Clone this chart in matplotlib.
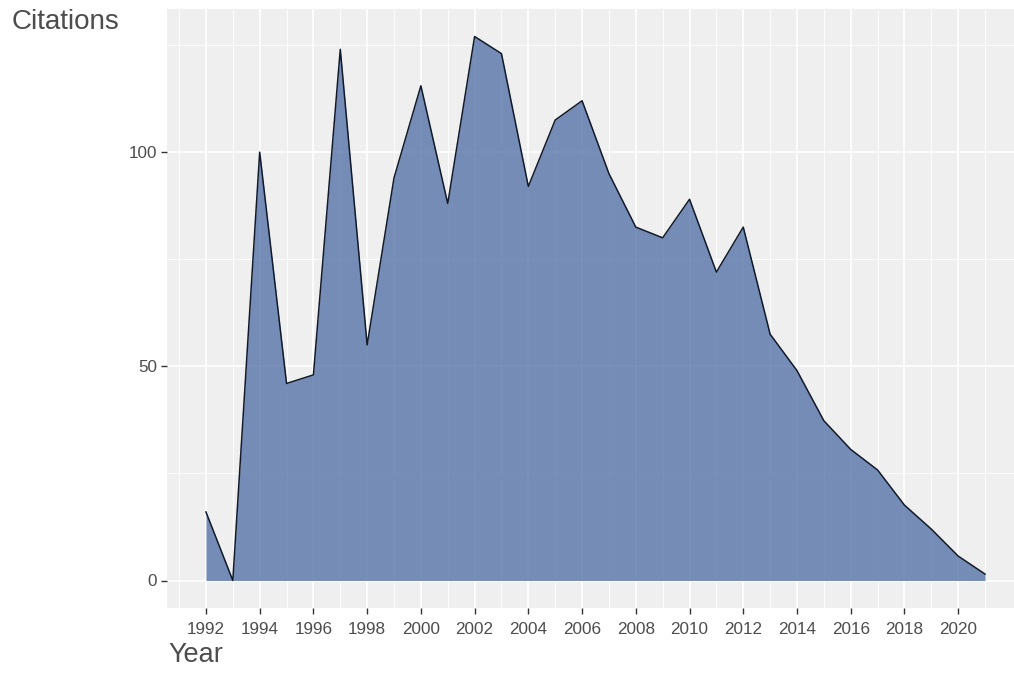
import matplotlib.pyplot as plt
import numpy as np

# Citations per year
years = list(range(1992, 2022))
citations = [16, 0, 100, 46, 48, 124, 55, 94, 115.5, 88,
             127, 123, 92, 107.5, 112, 95, 82.5, 80, 89, 72,
             82.5, 57.5, 49, 37.3, 30.6, 25.8, 17.6, 12, 5.7, 1.5]
x_ticks = list(range(1992, 2021, 2))
y_ticks = [0, 50, 100]

plt.rcParams['font.family'] = ['Liberation Sans', 'DejaVu Sans']

fig = plt.figure(figsize=(10.14, 6.73), dpi=100)
ax = fig.add_axes([167 / 1014, 65.3 / 673, 857 / 1014, 598.4 / 673])
ax.set_facecolor('#EFEFEF')

# grid, ggplot style
for yr in range(1991, 2023, 2):
    ax.axvline(yr, color='white', lw=0.6, zorder=0)
for yr in x_ticks:
    ax.axvline(yr, color='white', lw=1.2, zorder=0)
for v in [25, 75, 125]:
    ax.axhline(v, color='white', lw=0.6, zorder=0)
for v in y_ticks:
    ax.axhline(v, color='white', lw=1.2, zorder=0)

ax.fill_between(years, 0, citations, color='#5674A8', alpha=0.8, lw=0, zorder=2)
ax.plot(years, citations, color='#111A2A', lw=1.1, zorder=3)

span = years[-1] - years[0]
ax.set_xlim(years[0] - 0.05 * span, years[-1] + 0.05 * span)
top = max(citations)
ax.set_ylim(-0.05 * top, top * 1.05)

ax.set_xticks(x_ticks)
ax.set_yticks(y_ticks)
ax.tick_params(axis='both', colors='#333333', length=4, width=1,
               labelsize=12.3, labelcolor='#4D4D4D', pad=3)
ax.tick_params(axis='x', pad=6)
for s in ax.spines.values():
    s.set_visible(False)

fig.text(12 / 1014, 1 - 22 / 673, 'Citations', fontsize=20, color='#4D4D4D',
         ha='left', va='center')
fig.text(168 / 1014, 1 - 655 / 673, 'Year', fontsize=19.5, color='#4D4D4D',
         ha='left', va='center')

fig.savefig('out.png', dpi=100)
